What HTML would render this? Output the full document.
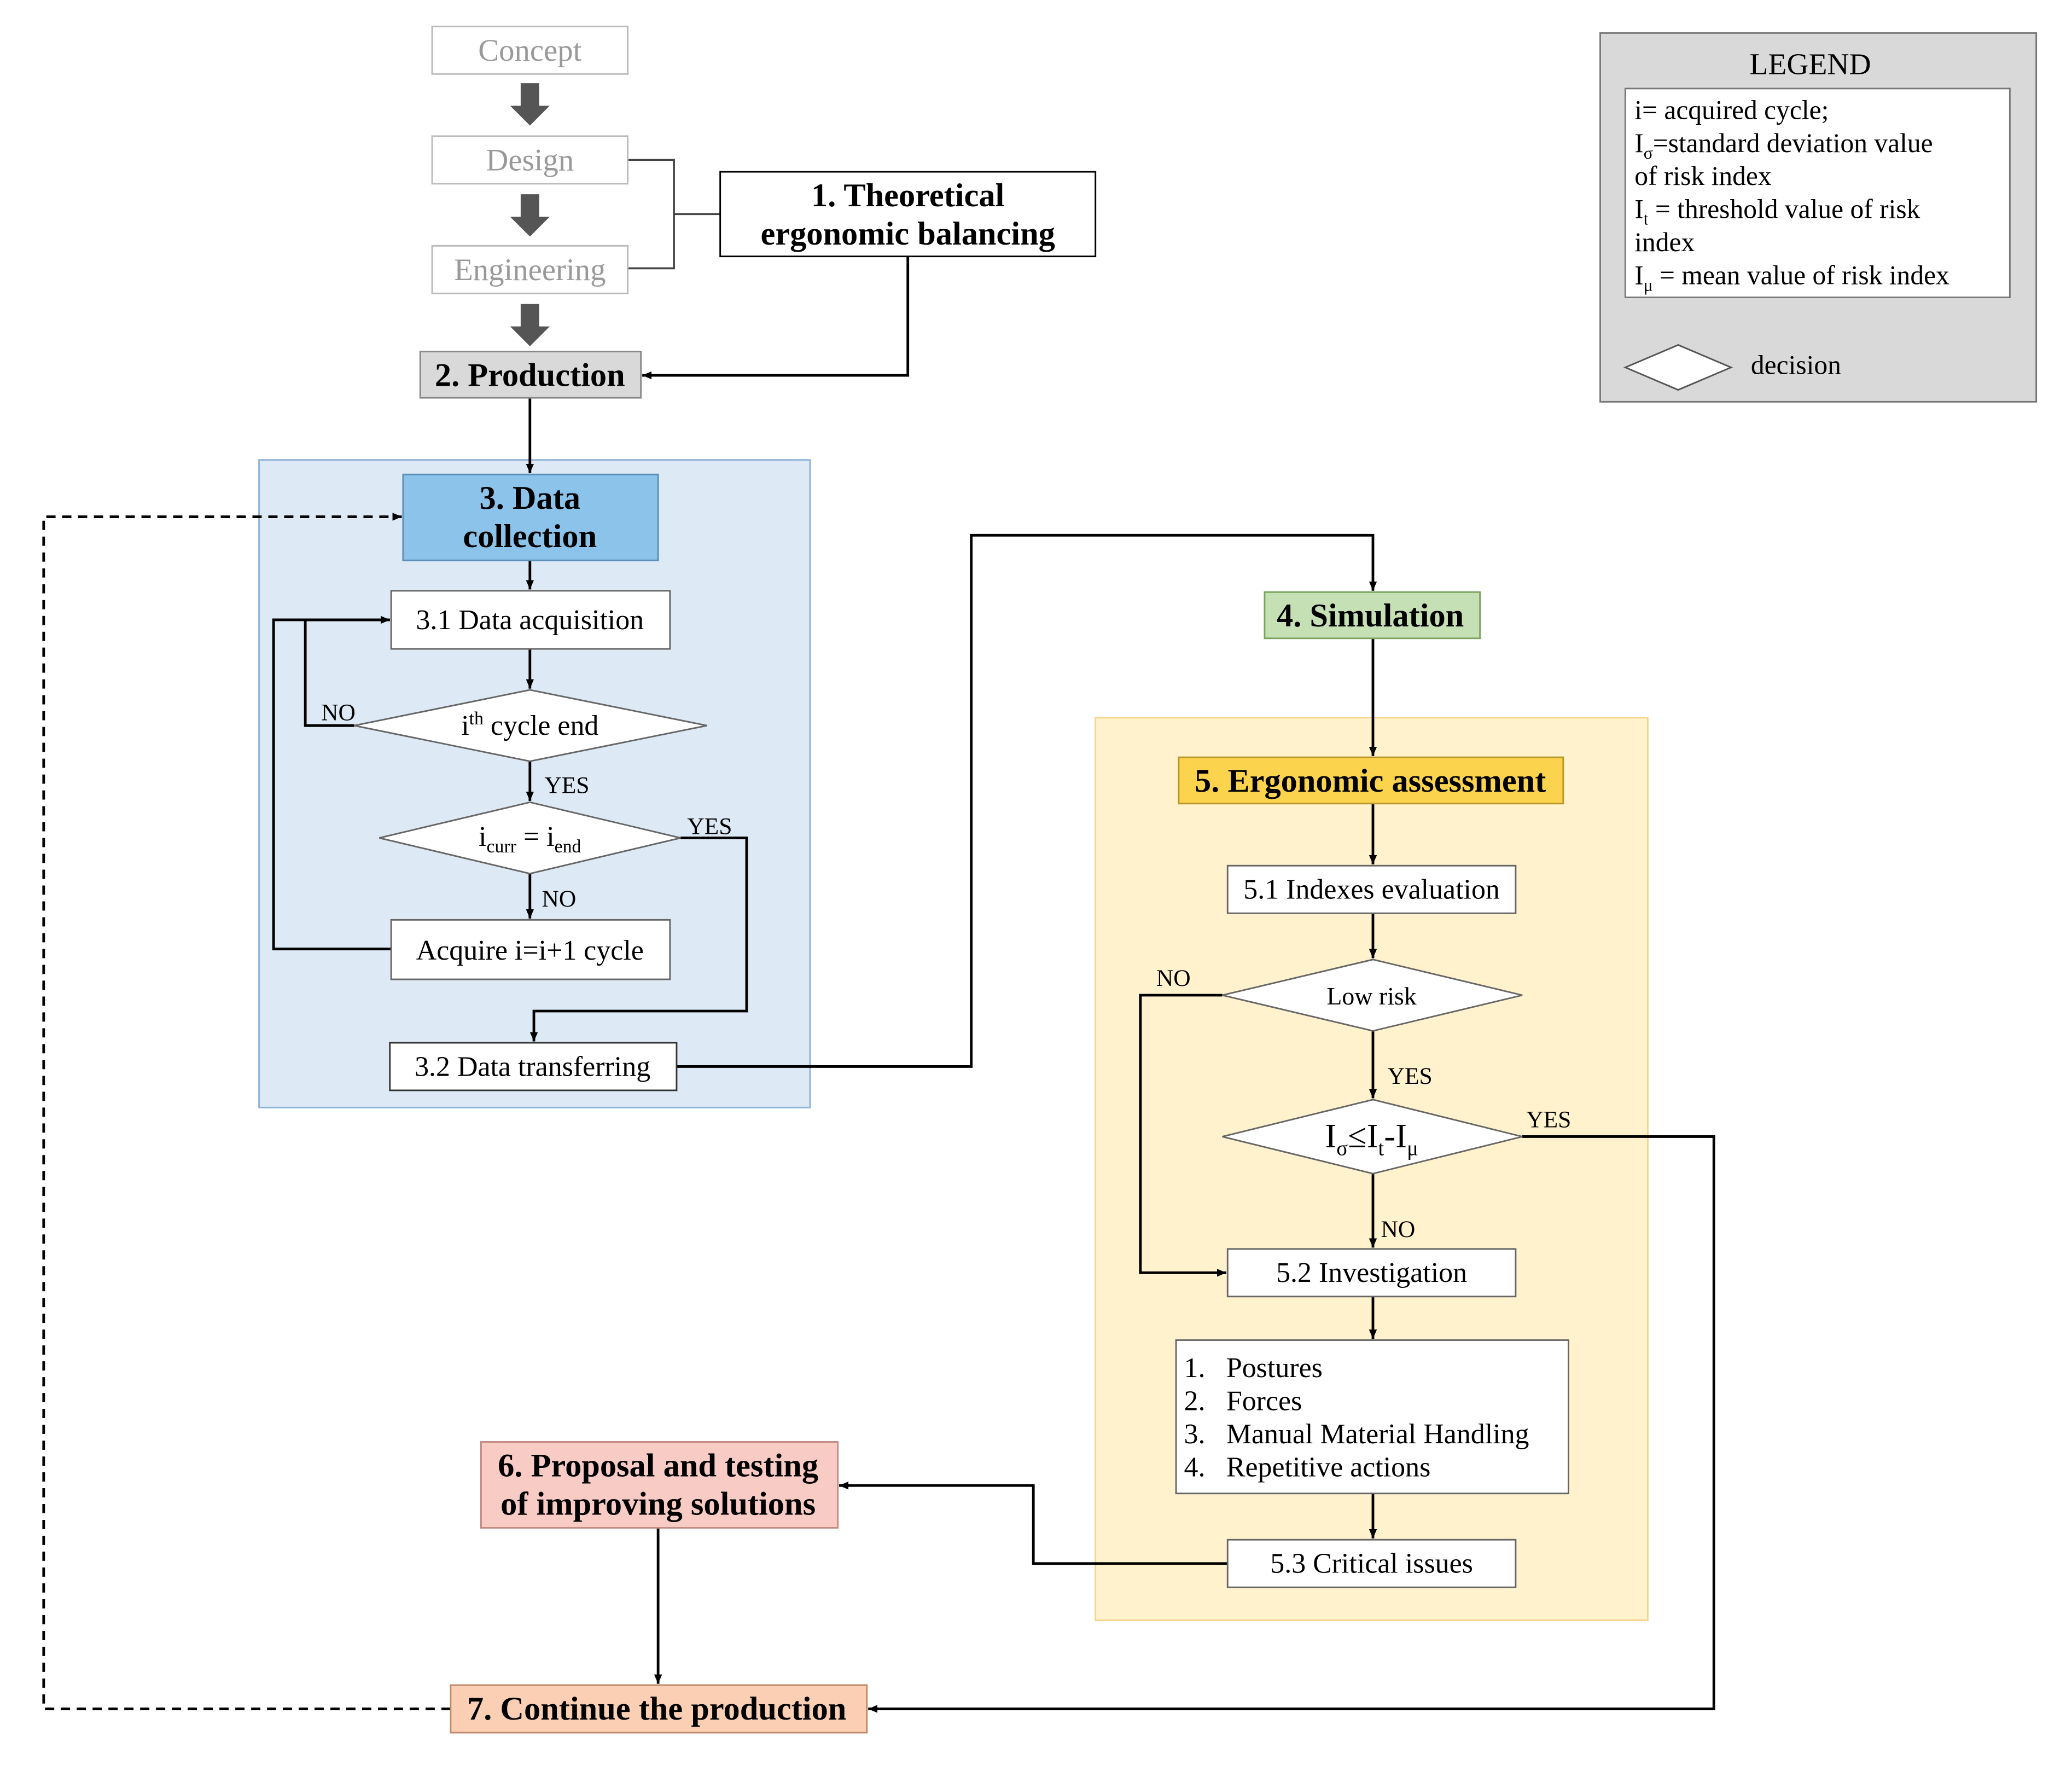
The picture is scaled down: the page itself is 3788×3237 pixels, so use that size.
<!DOCTYPE html>
<html><head><meta charset="utf-8"><style>html,body{margin:0;padding:0;background:#fff}svg{display:block}</style></head>
<body>
<svg width="3788" height="3237" viewBox="0 0 1568 1340" xmlns="http://www.w3.org/2000/svg" font-family="'Liberation Serif', serif">
<defs>
<marker id="a" markerWidth="8" markerHeight="8" refX="7" refY="4" orient="auto" markerUnits="userSpaceOnUse"><path d="M0,1 L7,4 L0,7 z" fill="#000"/></marker>
</defs>
<rect width="1568" height="1340" fill="#fff"/>
<rect x="196" y="348" width="417" height="490" fill="#dde9f5" stroke="#8fb4d9" stroke-width="1.2"/>
<rect x="829" y="543" width="418" height="683" fill="#fff2cc" stroke="#f5d58a" stroke-width="1.2"/>

<g fill="none" stroke="#000" stroke-width="2">
<polyline points="475,121 510,121 510,203 475,203" stroke="#444" stroke-width="1.5"/>
<line x1="510" y1="162" x2="545" y2="162" stroke="#444" stroke-width="1.5"/>
<polyline points="687,194 687,284 486,284" marker-end="url(#a)"/>
<line x1="401" y1="301" x2="401" y2="358" marker-end="url(#a)"/>
<line x1="401" y1="424" x2="401" y2="446" marker-end="url(#a)"/>
<line x1="401" y1="491" x2="401" y2="521" marker-end="url(#a)"/>
<polyline points="268,549 231,549 231,469 295,469" marker-end="url(#a)"/>
<line x1="401" y1="576" x2="401" y2="606" marker-end="url(#a)"/>
<polyline points="515,634 565,634 565,765 404,765 404,788" marker-end="url(#a)"/>
<line x1="401" y1="661" x2="401" y2="695" marker-end="url(#a)"/>
<polyline points="296,718 207,718 207,469 295,469" marker-end="url(#a)"/>
<polyline points="512,807 735,807 735,405 1039,405 1039,447" marker-end="url(#a)"/>
<line x1="1039" y1="483" x2="1039" y2="572" marker-end="url(#a)"/>
<line x1="1039" y1="608" x2="1039" y2="654" marker-end="url(#a)"/>
<line x1="1039" y1="691" x2="1039" y2="725" marker-end="url(#a)"/>
<polyline points="925,753 863,753 863,963 928,963" marker-end="url(#a)"/>
<line x1="1039" y1="780" x2="1039" y2="831" marker-end="url(#a)"/>
<polyline points="1152,860 1297,860 1297,1293 657,1293" marker-end="url(#a)"/>
<line x1="1039" y1="888" x2="1039" y2="944" marker-end="url(#a)"/>
<line x1="1039" y1="981" x2="1039" y2="1013" marker-end="url(#a)"/>
<line x1="1039" y1="1130" x2="1039" y2="1164" marker-end="url(#a)"/>
<polyline points="929,1183 782,1183 782,1124 635,1124" marker-end="url(#a)"/>
<line x1="498" y1="1156" x2="498" y2="1274" marker-end="url(#a)"/>
<polyline points="341,1293 33,1293 33,391 304,391" stroke-dasharray="7,5" marker-end="url(#a)"/>
</g>

<g fill="#555">
<path d="M394,63 h14 v17 h8 l-15,15 l-15,-15 h8 z"/>
<path d="M394,147 h14 v17 h8 l-15,15 l-15,-15 h8 z"/>
<path d="M394,230 h14 v17 h8 l-15,15 l-15,-15 h8 z"/>
</g>

<g stroke-width="1.2">
<rect x="327" y="20" width="148" height="36" fill="#fff" stroke="#bbb"/>
<rect x="327" y="103" width="148" height="36" fill="#fff" stroke="#bbb"/>
<rect x="327" y="186" width="148" height="36" fill="#fff" stroke="#bbb"/>
<rect x="318" y="266" width="167" height="35" fill="#d9d9d9" stroke="#888"/>
<rect x="545" y="130" width="284" height="64" fill="#fff" stroke="#000"/>
<rect x="305" y="359" width="193" height="65" fill="#8cc3ea" stroke="#5a8fb8"/>
<rect x="296" y="447" width="211" height="44" fill="#fff" stroke="#666"/>
<polygon points="268,549 401,522 535,549 401,576" fill="#fff" stroke="#666"/>
<polygon points="287,634 401,607 515,634 401,661" fill="#fff" stroke="#666"/>
<rect x="296" y="696" width="211" height="45" fill="#fff" stroke="#666"/>
<rect x="295" y="789" width="217" height="36" fill="#fff" stroke="#333"/>
<rect x="957" y="448" width="163" height="35" fill="#c5e0b4" stroke="#7aa35e"/>
<rect x="892" y="573" width="291" height="35" fill="#fcd34d" stroke="#b8962a"/>
<rect x="929" y="655" width="218" height="36" fill="#fff" stroke="#666"/>
<polygon points="925,753 1039,726 1152,753 1039,780" fill="#fff" stroke="#666"/>
<polygon points="925,860 1039,832 1152,860 1039,888" fill="#fff" stroke="#666"/>
<rect x="929" y="945" width="218" height="36" fill="#fff" stroke="#666"/>
<rect x="890" y="1014" width="297" height="116" fill="#fff" stroke="#666"/>
<rect x="929" y="1165" width="218" height="36" fill="#fff" stroke="#666"/>
<rect x="364" y="1091" width="270" height="65" fill="#f8cbc4" stroke="#c08a80"/>
<rect x="341" y="1275" width="315" height="36" fill="#fbcfb4" stroke="#c08a6a"/>
<rect x="1211" y="25" width="330" height="279" fill="#d9d9d9" stroke="#777"/>
<rect x="1230" y="67" width="291" height="158" fill="#fff" stroke="#777"/>
<polygon points="1230,278 1270,261 1310,278 1270,295" fill="#fff" stroke="#555"/>
</g>

<g font-size="23.5" text-anchor="middle">
<text x="401" y="46" fill="#999">Concept</text>
<text x="401" y="129" fill="#999">Design</text>
<text x="401" y="212" fill="#999">Engineering</text>
<g font-weight="bold" font-size="25">
<text x="401" y="292">2. Production</text>
<text x="687" y="156">1. Theoretical</text>
<text x="687" y="185">ergonomic balancing</text>
<text x="401" y="385">3. Data</text>
<text x="401" y="414">collection</text>
<text x="1037" y="474">4. Simulation</text>
<text x="1037" y="599">5. Ergonomic assessment</text>
<text x="498" y="1117">6. Proposal and testing</text>
<text x="498" y="1146">of improving solutions</text>
<text x="497" y="1301">7. Continue the production</text>
</g>
<g font-size="21.5">
<text x="401" y="476">3.1 Data acquisition</text>
<text x="401" y="556">i<tspan font-size="14" dy="-8">th</tspan><tspan dy="8"> cycle end</tspan></text>
<text x="401" y="640">i<tspan font-size="14" dy="5">curr</tspan><tspan dy="-5"> = i</tspan><tspan font-size="14" dy="5">end</tspan></text>
<text x="401" y="726">Acquire i=i+1 cycle</text>
<text x="403" y="814">3.2 Data transferring</text>
<text x="1038" y="680">5.1 Indexes evaluation</text>
<text x="1038" y="760" font-size="19">Low risk</text>
<text x="1038" y="868" font-size="26">I<tspan font-size="16" dy="6">σ</tspan><tspan dy="-6">≤I</tspan><tspan font-size="16" dy="6">t</tspan><tspan dy="-6">-I</tspan><tspan font-size="16" dy="6">μ</tspan></text>
<text x="1038" y="970">5.2 Investigation</text>
<text x="1038" y="1190">5.3 Critical issues</text>
<text x="1370" y="56" font-size="23">LEGEND</text>
</g>
</g>
<g font-size="18">
<text x="243" y="545">NO</text>
<text x="412" y="600">YES</text>
<text x="520" y="631">YES</text>
<text x="410" y="686">NO</text>
<text x="875" y="746">NO</text>
<text x="1050" y="820">YES</text>
<text x="1155" y="853">YES</text>
<text x="1045" y="936">NO</text>
</g>
<g font-size="21.5">
<text x="896" y="1042">1.</text><text x="928" y="1042">Postures</text>
<text x="896" y="1067">2.</text><text x="928" y="1067">Forces</text>
<text x="896" y="1092">3.</text><text x="928" y="1092">Manual Material Handling</text>
<text x="896" y="1117">4.</text><text x="928" y="1117">Repetitive actions</text>
</g>
<g font-size="20.5">
<text x="1237" y="90">i= acquired cycle;</text>
<text x="1237" y="115">I<tspan font-size="13" dy="5">σ</tspan><tspan dy="-5">=standard deviation value</tspan></text>
<text x="1237" y="140">of risk index</text>
<text x="1237" y="165">I<tspan font-size="13" dy="5">t</tspan><tspan dy="-5"> = threshold value of risk</tspan></text>
<text x="1237" y="190">index</text>
<text x="1237" y="215">I<tspan font-size="13" dy="5">μ</tspan><tspan dy="-5"> = mean value of risk index</tspan></text>
<text x="1325" y="283">decision</text>
</g>
</svg>
</body></html>
